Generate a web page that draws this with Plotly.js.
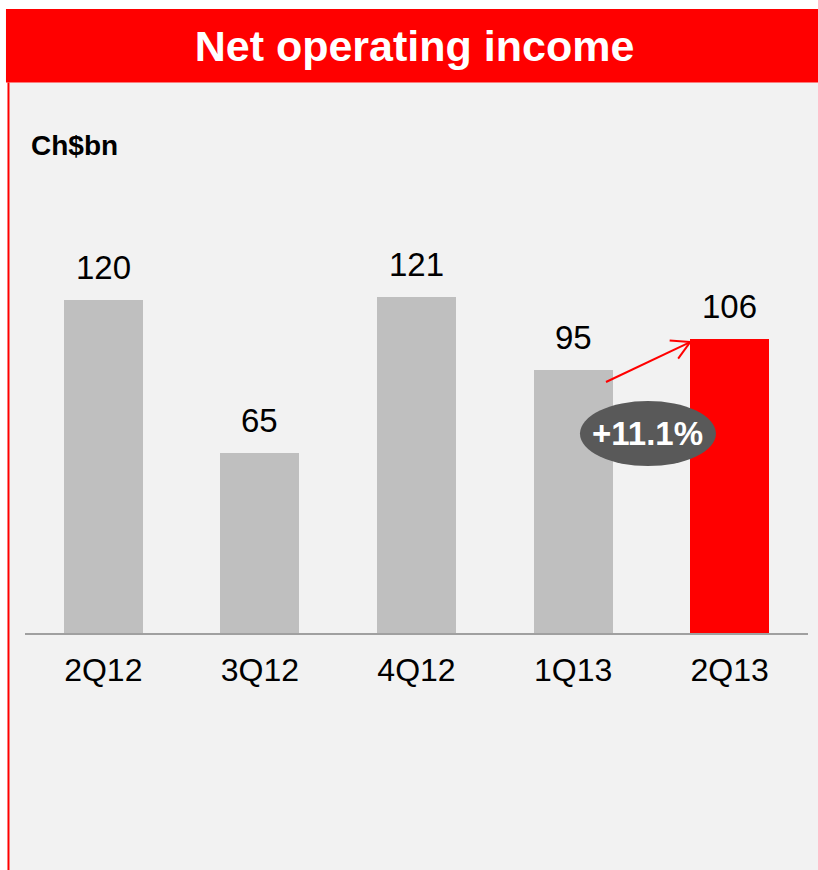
<!DOCTYPE html>
<html>
<head>
<meta charset="utf-8">
<script src="https://cdn.plot.ly/plotly-3.0.1.min.js"></script>
<style>html,body{margin:0;padding:0;background:#fff;}#chart{width:818px;height:870px;}</style>
</head>
<body>
<div id="chart"></div>
<script>
var categories = ["2Q12", "3Q12", "4Q12", "1Q13", "2Q13"];
var values = [120, 65, 121, 95, 106];
var barColors = ["#bfbfbf", "#bfbfbf", "#bfbfbf", "#bfbfbf", "#ff0000"];
var growthLabel = "+11.1%";
var unitLabel = "Ch$bn";
var titleText = "Net operating income";

var FONT = "Liberation Sans, Arial, sans-serif";
var barWidth = 0.505;

var trace = {
  type: "bar",
  x: [0, 1, 2, 3, 4],
  y: values,
  width: barWidth,
  marker: {color: barColors, line: {width: 0}},
  hoverinfo: "none",
  showlegend: false
};

var annotations = values.map(function (v, i) {
  return {
    x: i, y: v, xref: "x", yref: "y",
    text: String(v), showarrow: false,
    yanchor: "bottom", yshift: 12,
    font: {family: FONT, size: 33, color: "#000"}
  };
});

// arrow between 1Q13 and 2Q13
var ax0 = 3 + 0.21, ay0 = values[3] - 4.5;
var ax1 = 4 - barWidth / 2, ay1 = values[4] - 1.1;
// ellipse centre
var ex = 3.478, ey = 71.9;

annotations.push({
  x: ex, y: ey, xref: "x", yref: "y", text: growthLabel, showarrow: false,
  font: {family: FONT, size: 33, color: "#fff", weight: "bold"}
});
annotations.push({
  x: 0.0051, y: 1.1707, xref: "paper", yref: "paper", text: unitLabel,
  showarrow: false, xanchor: "left", yanchor: "middle",
  font: {family: FONT, size: 28, color: "#000", weight: "bold"}
});

var shapes = [
  {type: "rect", xref: "paper", yref: "paper", x0: -0.0217, x1: 1.03, y0: -0.6, y1: 1.3233,
   fillcolor: "#f2f2f2", line: {width: 0}, layer: "below"},
  {type: "rect", xref: "paper", yref: "paper", x0: -0.0243, x1: 1.03, y0: 1.3233, y1: 1.5,
   fillcolor: "#ff0000", line: {width: 0}, layer: "below"},
  {type: "line", xref: "paper", yref: "paper", x0: -0.0211, x1: -0.0211, y0: -0.6, y1: 1.3233,
   line: {color: "#ff0000", width: 2}, layer: "below"},
  {type: "line", xref: "x", yref: "y", x0: ax0, y0: ay0, x1: ax1, y1: ay1,
   line: {color: "#ff0000", width: 2}},
  {type: "line", xref: "x", yref: "y", xsizemode: "pixel", ysizemode: "pixel",
   xanchor: ax1, yanchor: ay1, x0: 0, y0: 0, x1: -20.5, y1: 1.5,
   line: {color: "#ff0000", width: 2}},
  {type: "line", xref: "x", yref: "y", xsizemode: "pixel", ysizemode: "pixel",
   xanchor: ax1, yanchor: ay1, x0: 0, y0: 0, x1: -12, y1: -16.5,
   line: {color: "#ff0000", width: 2}},
  {type: "circle", xref: "x", yref: "y", xsizemode: "pixel", ysizemode: "pixel",
   xanchor: ex, yanchor: ey, x0: -68, x1: 68, y0: -32.5, y1: 32.5,
   fillcolor: "#595959", line: {width: 0}}
];

var layout = {
  width: 818, height: 870,
  margin: {l: 25, r: 10, t: 217, b: 237, pad: 0},
  paper_bgcolor: "#ffffff",
  plot_bgcolor: "rgba(0,0,0,0)",
  title: {
    text: titleText, xref: "container", yref: "container",
    x: 414.5 / 818, xanchor: "center", y: 1 - 46 / 870, yanchor: "middle",
    font: {family: FONT, size: 43, color: "#ffffff", weight: "bold"}
  },
  xaxis: {
    range: [-0.5, 4.5], tickmode: "array", tickvals: [0, 1, 2, 3, 4], ticktext: categories,
    showgrid: false, zeroline: false, showline: true, linecolor: "#a0a0a0", linewidth: 1.5,
    ticks: "outside", ticklen: 8, tickcolor: "rgba(0,0,0,0)",
    tickfont: {family: FONT, size: 32, color: "#000"}, fixedrange: true
  },
  yaxis: {
    range: [0, 150], visible: false, showgrid: false, zeroline: false, fixedrange: true
  },
  annotations: annotations,
  shapes: shapes,
  bargap: 0
};

Plotly.newPlot("chart", [trace], layout, {displayModeBar: false, staticPlot: true});
</script>
</body>
</html>
